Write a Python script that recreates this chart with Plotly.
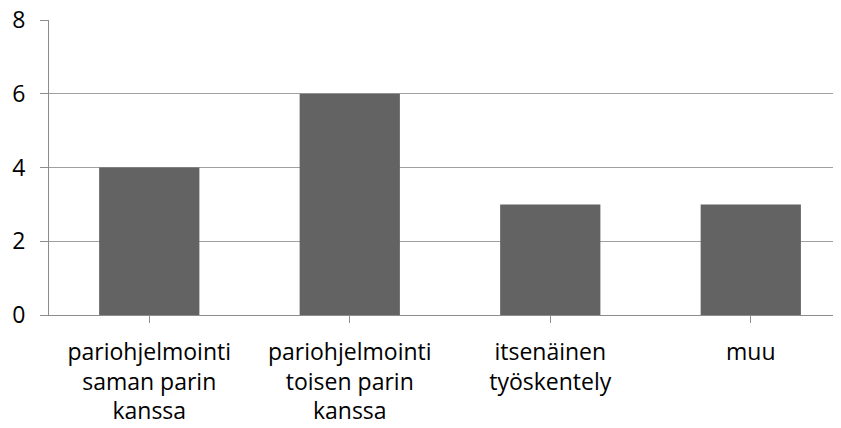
import plotly.graph_objects as go

categories = [
    "pariohjelmointi<br>saman parin<br>kanssa",
    "pariohjelmointi<br>toisen parin<br>kanssa",
    "itsenäinen<br>työskentely",
    "muu",
]
values = [4, 6, 3, 3]
y_ticks = [0, 2, 4, 6, 8]

fig = go.Figure()
fig.add_trace(
    go.Bar(
        x=list(range(len(categories))),
        y=values,
        marker=dict(color="#636363", line=dict(width=0)),
        width=0.5,
    )
)

# the page body has an 8px margin, so the figure is sized to fit inside it
axis_grey = "#8c8c8c"
fig.update_layout(
    width=833,
    height=412,
    margin=dict(l=41, r=0, t=12, b=105),
    paper_bgcolor="white",
    plot_bgcolor="white",
    showlegend=False,
    font=dict(family="Open Sans, sans-serif", size=23, color="#000000"),
    xaxis=dict(
        tickmode="array",
        tickvals=list(range(len(categories))),
        ticktext=categories,
        range=[-0.5, 3.45],
        automargin=False,
        showline=True,
        linecolor=axis_grey,
        linewidth=1,
        ticks="outside",
        tickson="boundaries",
        ticklen=7,
        tickcolor=axis_grey,
        ticklabelstandoff=9,
        ticklabeloverflow="allow",
        showgrid=False,
        zeroline=False,
    ),
    yaxis=dict(
        range=[0, 8],
        tickvals=y_ticks,
        automargin=False,
        showline=True,
        linecolor=axis_grey,
        linewidth=1,
        ticks="outside",
        ticklen=8,
        tickcolor=axis_grey,
        ticklabelstandoff=10,
        ticklabeloverflow="allow",
        showgrid=True,
        gridcolor="#a0a0a0",
        gridwidth=1,
        zeroline=False,
    ),
)

fig.write_html("out.html")
